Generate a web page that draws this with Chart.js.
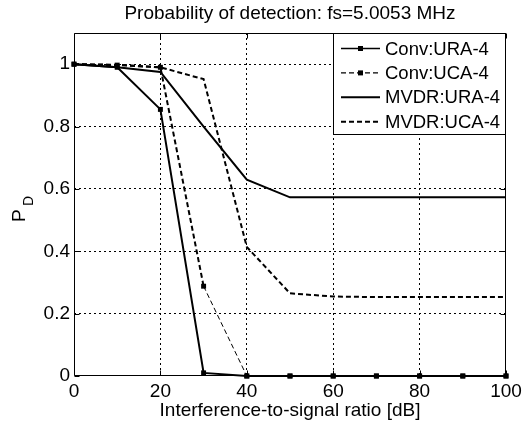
<!DOCTYPE html>
<html>
<head>
<meta charset="utf-8">
<script src="https://cdn.jsdelivr.net/npm/chart.js@4/dist/chart.umd.min.js"></script>
<style>
html,body{margin:0;padding:0;background:#fff;}
#wrap{width:527px;height:425px;}
</style>
</head>
<body>
<div id="wrap"><canvas id="c" width="527" height="425"></canvas></div>
<script>
// ---- data ----
const titleText = 'Probability of detection: fs=5.0053 MHz';
const xAxisLabel = 'Interference-to-signal ratio [dB]';
const yAxisMain = 'P';
const yAxisSub = 'D';
const seriesNames = ['Conv:URA-4', 'Conv:UCA-4', 'MVDR:URA-4', 'MVDR:UCA-4'];
const isrValues = [0, 10, 20, 30, 40, 50, 60, 70, 80, 90, 100];
const convURA = [1.0, 0.99, 0.855, 0.01, 0, 0, 0, 0, 0, 0, 0];
const convUCA = [1.0, 0.997, 0.99, 0.288, 0, 0, 0, 0, 0, 0, 0];
const mvdrURA = [1.0, 0.99, 0.975, 0.80, 0.63, 0.573, 0.573, 0.573, 0.573, 0.573, 0.573];
const mvdrUCA = [1.0, 0.998, 0.99, 0.952, 0.414, 0.265, 0.255, 0.253, 0.253, 0.253, 0.253];
const xTicks = [0, 20, 40, 60, 80, 100];
const yTicks = [0, 0.2, 0.4, 0.6, 0.8, 1];
const yTickLabels = ['0', '0.2', '0.4', '0.6', '0.8', '1'];
const xTickLabels = ['0', '20', '40', '60', '80', '100'];

const FONT = "'Liberation Sans', Arial, sans-serif";

function pts(vals) { return isrValues.map((x, i) => ({x: x, y: vals[i]})); }

const frameAndTicks = {
  id: 'frameAndTicks',
  afterDatasetsDraw(chart) {
    const {ctx, chartArea: a, scales} = chart;
    ctx.save();
    ctx.strokeStyle = '#000';
    ctx.lineWidth = 1;
    ctx.setLineDash([]);
    ctx.beginPath();
    const L = Math.round(a.left) + 0.5, R = Math.round(a.right) - 0.5;
    const T = Math.round(a.top) + 0.5, B = Math.round(a.bottom) - 0.5;
    ctx.rect(L, T, R - L, B - T);
    const tl = 5;
    yTicks.forEach(v => {
      const y = Math.round(scales.y.getPixelForValue(v)) + 0.5;
      ctx.moveTo(L, y); ctx.lineTo(L + tl, y);
      ctx.moveTo(R, y); ctx.lineTo(R - tl, y);
    });
    xTicks.forEach(v => {
      const x = Math.round(scales.x.getPixelForValue(v)) + 0.5;
      ctx.moveTo(x, B); ctx.lineTo(x, B - tl);
      ctx.moveTo(x, T); ctx.lineTo(x, T + tl);
    });
    ctx.stroke();
    ctx.restore();
  }
};

const boxLegend = {
  id: 'boxLegend',
  afterDraw(chart) {
    const {ctx, chartArea: a} = chart;
    const right = Math.round(a.right), top = Math.round(a.top);
    const left = right - 173, bottom = top + 102;
    ctx.save();
    ctx.fillStyle = '#fff';
    ctx.fillRect(left, top, right - left, bottom - top);
    ctx.strokeStyle = '#000';
    ctx.lineWidth = 1;
    ctx.setLineDash([]);
    ctx.strokeRect(left + 0.5, top + 0.5, right - left - 1, bottom - top - 1);
    ctx.font = '18.5px ' + FONT;
    ctx.textBaseline = 'middle';
    ctx.textAlign = 'left';
    ctx.fillStyle = '#000';
    chart.data.datasets.forEach((ds, i) => {
      const y = top + 15.5 + i * 24.4;
      ctx.beginPath();
      ctx.setLineDash(ds.borderDash || []);
      ctx.lineWidth = ds.legendWidth || 2;
      ctx.moveTo(left + 8, y);
      ctx.lineTo(left + 47, y);
      ctx.stroke();
      ctx.setLineDash([]);
      if (ds.pointRadius > 0) {
        ctx.fillRect(left + 25, y - 2.5, 5, 5);
      }
      ctx.fillText(ds.label, left + 52, y + 1);
    });
    // y axis label with subscript
    ctx.save();
    ctx.translate(25, 222);
    ctx.rotate(-Math.PI / 2);
    ctx.textBaseline = 'alphabetic';
    ctx.font = '19px ' + FONT;
    ctx.fillText(yAxisMain, 0, 0);
    ctx.font = '14px ' + FONT;
    ctx.fillText(yAxisSub, 16, 8);
    ctx.restore();
    ctx.restore();
  }
};

new Chart(document.getElementById('c'), {
  type: 'line',
  data: {
    datasets: [
      {label: seriesNames[0], data: pts(convURA), borderColor: '#000', backgroundColor: '#000',
       borderWidth: 2, pointStyle: 'rect', pointRadius: 3.5, pointBorderWidth: 0, legendWidth: 1.5, clip: 6},
      {label: seriesNames[1], data: pts(convUCA), borderColor: '#000', backgroundColor: '#000',
       borderWidth: 2, borderDash: [5, 3], pointStyle: 'rect', pointRadius: 3.5, pointBorderWidth: 0, legendWidth: 1.3, clip: 6,
       segment: {borderWidth: c => (c.p0.parsed.x >= 30 ? 1 : 2)}},
      {label: seriesNames[2], data: pts(mvdrURA), borderColor: '#000', backgroundColor: '#000',
       borderWidth: 2, pointRadius: 0, legendWidth: 2},
      {label: seriesNames[3], data: pts(mvdrUCA), borderColor: '#000', backgroundColor: '#000',
       borderWidth: 2, borderDash: [5, 3], pointRadius: 0, legendWidth: 2}
    ]
  },
  options: {
    responsive: false,
    animation: false,
    devicePixelRatio: 1,
    layout: {padding: {left: 0, right: 21, top: 0, bottom: 0}},
    elements: {line: {tension: 0, fill: false}},
    plugins: {
      legend: {display: false},
      tooltip: {enabled: false},
      title: {
        display: true, text: titleText, fullSize: false, color: '#000',
        font: {family: FONT, size: 19, weight: 'normal'},
        padding: {top: 2, bottom: 8.2}
      }
    },
    scales: {
      x: {
        type: 'linear', min: 0, max: 100,
        afterBuildTicks: s => { s.ticks = xTicks.map(v => ({value: v})); },
        afterFit: s => { s.height = 49; },
        ticks: {
          color: '#000', font: {family: FONT, size: 19}, padding: 4, maxRotation: 0,
          callback: (v) => xTickLabels[xTicks.indexOf(v)]
        },
        grid: {
          drawTicks: false, color: c => (c.tick && (c.tick.value === 0 || c.tick.value === 100) ? 'rgba(0,0,0,0)' : '#000'),
          lineWidth: 1
        },
        border: {display: false, dash: [2, 3]},
        title: {display: true, text: xAxisLabel, color: '#000', font: {family: FONT, size: 19}, padding: {top: 0, bottom: 3}}
      },
      y: {
        type: 'linear', min: 0, max: 1.1,
        afterBuildTicks: s => { s.ticks = yTicks.map(v => ({value: v})); },
        afterFit: s => { s.width = 74; },
        ticks: {
          color: '#000', font: {family: FONT, size: 19}, padding: 4,
          callback: (v) => yTickLabels[yTicks.indexOf(v)]
        },
        grid: {
          drawTicks: false, color: c => (c.tick && c.tick.value === 0 ? 'rgba(0,0,0,0)' : '#000'),
          lineWidth: 1
        },
        border: {display: false, dash: [2, 3]}
      }
    }
  },
  plugins: [frameAndTicks, boxLegend]
});
</script>
</body>
</html>
